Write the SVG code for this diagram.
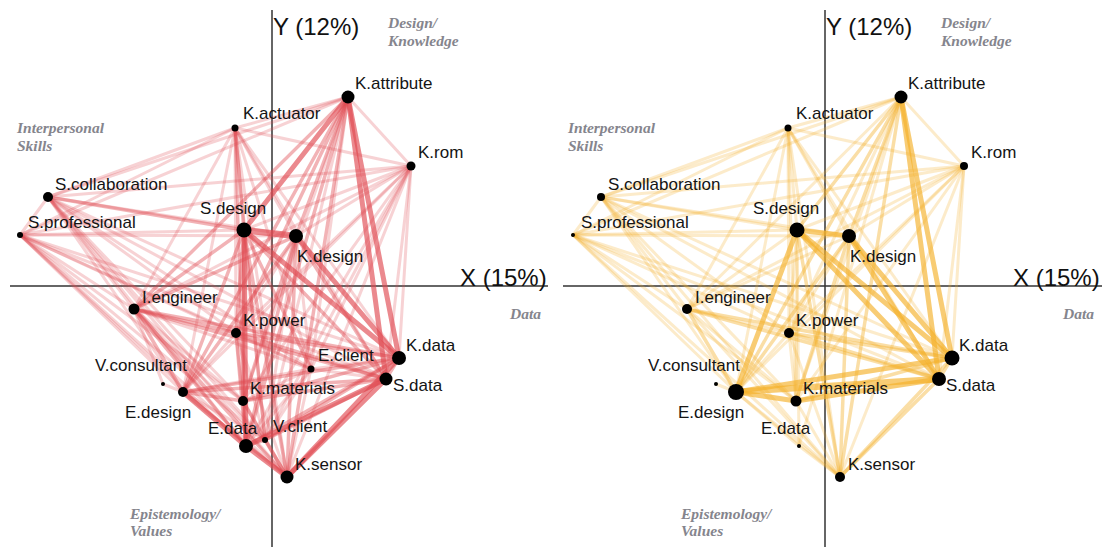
<svg xmlns="http://www.w3.org/2000/svg" width="1102" height="547" viewBox="0 0 1102 547">
<style>
  .links line { fill: none; stroke-linecap: round; }
  #links-left { stroke: #e04a52; }
  #links-right { stroke: #f4b02a; }
  .a { stroke-width: 3; stroke-opacity: .25; }
  .b { stroke-width: 3.5; stroke-opacity: .42; }
  .c { stroke-width: 5; stroke-opacity: .65; }
  .node circle { fill: #000; }
  .node text { font-family: "Liberation Sans", Arial, sans-serif; font-size: 17px; fill: #141414; }
  .axis { stroke: #333; stroke-width: 1.5; }
  .axis-title { font-family: "Liberation Sans", Arial, sans-serif; font-size: 24px; fill: #111; }
  .cat { font-family: "Liberation Serif", "Times New Roman", serif; font-style: italic; font-weight: bold; font-size: 15.5px; fill: #85858d; }
</style>

<!-- ===== Left panel (red network) ===== -->
<g id="panel-left">
  <g class="axes">
    <line class="axis" x1="272" y1="10" x2="272" y2="547"/>
    <line class="axis" x1="10" y1="286" x2="548" y2="286"/>
    <text class="axis-title" x="273" y="35">Y (12%)</text>
    <text class="axis-title" x="460" y="286">X (15%)</text>
    <text class="cat" x="388" y="28">Design/</text>
    <text class="cat" x="388" y="46">Knowledge</text>
    <text class="cat" x="17" y="133">Interpersonal</text>
    <text class="cat" x="17" y="151">Skills</text>
    <text class="cat" x="510" y="319">Data</text>
    <text class="cat" x="130" y="519">Epistemology/</text>
    <text class="cat" x="130" y="536">Values</text>
  </g>

  <g id="links-left" class="links">
    <!-- K.attribute -->
    <line class="a" x1="348" y1="97" x2="235" y2="128"/>
    <line class="a" x1="348" y1="97" x2="411" y2="166"/>
    <line class="a" x1="348" y1="97" x2="48" y2="197"/>
    <line class="a" x1="348" y1="97" x2="20" y2="235"/>
    <line class="a" x1="348" y1="97" x2="243" y2="401"/>
    <line class="a" x1="348" y1="97" x2="311" y2="369"/>
    <line class="a" x1="348" y1="97" x2="265" y2="440"/>
    <line class="b" x1="348" y1="97" x2="296" y2="236"/>
    <line class="b" x1="348" y1="97" x2="134" y2="309"/>
    <line class="b" x1="348" y1="97" x2="236" y2="333"/>
    <line class="b" x1="348" y1="97" x2="183" y2="392"/>
    <line class="b" x1="348" y1="97" x2="246" y2="446"/>
    <line class="b" x1="348" y1="97" x2="287" y2="477"/>
    <line class="c" x1="348" y1="97" x2="244" y2="230"/>
    <line class="c" x1="348" y1="97" x2="399" y2="358"/>
    <line class="c" x1="348" y1="97" x2="386" y2="379"/>
    <!-- K.actuator -->
    <line class="a" x1="235" y1="128" x2="411" y2="166"/>
    <line class="a" x1="235" y1="128" x2="48" y2="197"/>
    <line class="a" x1="235" y1="128" x2="20" y2="235"/>
    <line class="a" x1="235" y1="128" x2="296" y2="236"/>
    <line class="a" x1="235" y1="128" x2="134" y2="309"/>
    <line class="a" x1="235" y1="128" x2="236" y2="333"/>
    <line class="a" x1="235" y1="128" x2="183" y2="392"/>
    <line class="a" x1="235" y1="128" x2="243" y2="401"/>
    <line class="a" x1="235" y1="128" x2="311" y2="369"/>
    <line class="a" x1="235" y1="128" x2="399" y2="358"/>
    <line class="a" x1="235" y1="128" x2="386" y2="379"/>
    <line class="a" x1="235" y1="128" x2="246" y2="446"/>
    <line class="a" x1="235" y1="128" x2="265" y2="440"/>
    <line class="a" x1="235" y1="128" x2="287" y2="477"/>
    <line class="b" x1="235" y1="128" x2="244" y2="230"/>
    <!-- K.rom -->
    <line class="a" x1="411" y1="166" x2="48" y2="197"/>
    <line class="a" x1="411" y1="166" x2="20" y2="235"/>
    <line class="a" x1="411" y1="166" x2="244" y2="230"/>
    <line class="a" x1="411" y1="166" x2="296" y2="236"/>
    <line class="a" x1="411" y1="166" x2="134" y2="309"/>
    <line class="a" x1="411" y1="166" x2="236" y2="333"/>
    <line class="a" x1="411" y1="166" x2="183" y2="392"/>
    <line class="a" x1="411" y1="166" x2="243" y2="401"/>
    <line class="a" x1="411" y1="166" x2="311" y2="369"/>
    <line class="a" x1="411" y1="166" x2="399" y2="358"/>
    <line class="a" x1="411" y1="166" x2="386" y2="379"/>
    <line class="a" x1="411" y1="166" x2="246" y2="446"/>
    <line class="a" x1="411" y1="166" x2="265" y2="440"/>
    <line class="a" x1="411" y1="166" x2="287" y2="477"/>
    <!-- S.collaboration -->
    <line class="b" x1="48" y1="197" x2="244" y2="230"/>
    <line class="a" x1="48" y1="197" x2="20" y2="235"/>
    <line class="a" x1="48" y1="197" x2="296" y2="236"/>
    <line class="a" x1="48" y1="197" x2="134" y2="309"/>
    <line class="a" x1="48" y1="197" x2="236" y2="333"/>
    <line class="a" x1="48" y1="197" x2="183" y2="392"/>
    <line class="a" x1="48" y1="197" x2="243" y2="401"/>
    <line class="a" x1="48" y1="197" x2="311" y2="369"/>
    <line class="a" x1="48" y1="197" x2="399" y2="358"/>
    <line class="a" x1="48" y1="197" x2="386" y2="379"/>
    <line class="a" x1="48" y1="197" x2="246" y2="446"/>
    <line class="a" x1="48" y1="197" x2="265" y2="440"/>
    <line class="a" x1="48" y1="197" x2="287" y2="477"/>
    <!-- S.professional -->
    <line class="a" x1="20" y1="235" x2="244" y2="230"/>
    <line class="a" x1="20" y1="235" x2="296" y2="236"/>
    <line class="a" x1="20" y1="235" x2="134" y2="309"/>
    <line class="a" x1="20" y1="235" x2="236" y2="333"/>
    <line class="a" x1="20" y1="235" x2="183" y2="392"/>
    <line class="a" x1="20" y1="235" x2="243" y2="401"/>
    <line class="a" x1="20" y1="235" x2="311" y2="369"/>
    <line class="a" x1="20" y1="235" x2="399" y2="358"/>
    <line class="a" x1="20" y1="235" x2="386" y2="379"/>
    <line class="a" x1="20" y1="235" x2="246" y2="446"/>
    <line class="a" x1="20" y1="235" x2="265" y2="440"/>
    <line class="a" x1="20" y1="235" x2="287" y2="477"/>
    <!-- S.design -->
    <line class="c" x1="244" y1="230" x2="296" y2="236" style="stroke-width:6.5"/>
    <line class="c" x1="244" y1="230" x2="399" y2="358"/>
    <line class="c" x1="244" y1="230" x2="246" y2="446"/>
    <line class="b" x1="244" y1="230" x2="134" y2="309"/>
    <line class="b" x1="244" y1="230" x2="236" y2="333"/>
    <line class="b" x1="244" y1="230" x2="183" y2="392"/>
    <line class="b" x1="244" y1="230" x2="243" y2="401"/>
    <line class="b" x1="244" y1="230" x2="311" y2="369"/>
    <line class="b" x1="244" y1="230" x2="386" y2="379"/>
    <line class="b" x1="244" y1="230" x2="265" y2="440"/>
    <line class="b" x1="244" y1="230" x2="287" y2="477"/>
    <!-- K.design -->
    <line class="c" x1="296" y1="236" x2="399" y2="358"/>
    <line class="b" x1="296" y1="236" x2="134" y2="309"/>
    <line class="b" x1="296" y1="236" x2="183" y2="392"/>
    <line class="b" x1="296" y1="236" x2="243" y2="401"/>
    <line class="b" x1="296" y1="236" x2="386" y2="379"/>
    <line class="b" x1="296" y1="236" x2="246" y2="446"/>
    <line class="b" x1="296" y1="236" x2="287" y2="477"/>
    <line class="a" x1="296" y1="236" x2="236" y2="333"/>
    <line class="a" x1="296" y1="236" x2="311" y2="369"/>
    <line class="a" x1="296" y1="236" x2="265" y2="440"/>
    <!-- I.engineer -->
    <line class="b" x1="134" y1="309" x2="236" y2="333"/>
    <line class="b" x1="134" y1="309" x2="183" y2="392"/>
    <line class="b" x1="134" y1="309" x2="399" y2="358"/>
    <line class="b" x1="134" y1="309" x2="386" y2="379"/>
    <line class="b" x1="134" y1="309" x2="246" y2="446"/>
    <line class="b" x1="134" y1="309" x2="287" y2="477"/>
    <line class="a" x1="134" y1="309" x2="243" y2="401"/>
    <line class="a" x1="134" y1="309" x2="311" y2="369"/>
    <line class="a" x1="134" y1="309" x2="265" y2="440"/>
    <!-- K.power -->
    <line class="b" x1="236" y1="333" x2="399" y2="358"/>
    <line class="b" x1="236" y1="333" x2="386" y2="379"/>
    <line class="b" x1="236" y1="333" x2="246" y2="446"/>
    <line class="a" x1="236" y1="333" x2="183" y2="392"/>
    <line class="a" x1="236" y1="333" x2="243" y2="401"/>
    <line class="a" x1="236" y1="333" x2="311" y2="369"/>
    <line class="a" x1="236" y1="333" x2="265" y2="440"/>
    <line class="a" x1="236" y1="333" x2="287" y2="477"/>
    <!-- E.design -->
    <line class="c" x1="183" y1="392" x2="246" y2="446"/>
    <line class="b" x1="183" y1="392" x2="243" y2="401"/>
    <line class="b" x1="183" y1="392" x2="399" y2="358"/>
    <line class="b" x1="183" y1="392" x2="386" y2="379"/>
    <line class="b" x1="183" y1="392" x2="287" y2="477"/>
    <line class="a" x1="183" y1="392" x2="311" y2="369"/>
    <line class="a" x1="183" y1="392" x2="265" y2="440"/>
    <!-- K.materials -->
    <line class="b" x1="243" y1="401" x2="399" y2="358"/>
    <line class="b" x1="243" y1="401" x2="386" y2="379"/>
    <line class="b" x1="243" y1="401" x2="246" y2="446"/>
    <line class="b" x1="243" y1="401" x2="287" y2="477"/>
    <line class="a" x1="243" y1="401" x2="311" y2="369"/>
    <line class="a" x1="243" y1="401" x2="265" y2="440"/>
    <!-- E.client -->
    <line class="a" x1="311" y1="369" x2="399" y2="358"/>
    <line class="a" x1="311" y1="369" x2="386" y2="379"/>
    <line class="a" x1="311" y1="369" x2="246" y2="446"/>
    <line class="a" x1="311" y1="369" x2="265" y2="440"/>
    <line class="a" x1="311" y1="369" x2="287" y2="477"/>
    <!-- K.data / S.data / E.data / V.client -->
    <line class="c" x1="399" y1="358" x2="287" y2="477"/>
    <line class="b" x1="399" y1="358" x2="386" y2="379"/>
    <line class="b" x1="399" y1="358" x2="246" y2="446"/>
    <line class="b" x1="399" y1="358" x2="265" y2="440"/>
    <line class="c" x1="386" y1="379" x2="246" y2="446"/>
    <line class="c" x1="386" y1="379" x2="287" y2="477"/>
    <line class="b" x1="386" y1="379" x2="265" y2="440"/>
    <line class="c" x1="246" y1="446" x2="287" y2="477"/>
    <line class="b" x1="246" y1="446" x2="265" y2="440"/>
    <line class="b" x1="265" y1="440" x2="287" y2="477"/>
    <!-- V.consultant -->
    <line class="a" x1="163" y1="384" x2="183" y2="392"/>
    <line class="a" x1="163" y1="384" x2="134" y2="309"/>
  </g>

  <g id="l-k-attribute" class="node"><circle cx="348" cy="97" r="6.5"/><text x="355" y="89">K.attribute</text></g>
  <g id="l-k-actuator" class="node"><circle cx="235" cy="128" r="3.5"/><text x="243" y="119">K.actuator</text></g>
  <g id="l-k-rom" class="node"><circle cx="411" cy="166" r="4.5"/><text x="418" y="158">K.rom</text></g>
  <g id="l-s-collaboration" class="node"><circle cx="48" cy="197" r="5"/><text x="55" y="190">S.collaboration</text></g>
  <g id="l-s-professional" class="node"><circle cx="20" cy="235" r="3"/><text x="28" y="228">S.professional</text></g>
  <g id="l-s-design" class="node"><circle cx="244" cy="230" r="7.5"/><text x="200" y="214">S.design</text></g>
  <g id="l-k-design" class="node"><circle cx="296" cy="236" r="7"/><text x="297" y="262">K.design</text></g>
  <g id="l-i-engineer" class="node"><circle cx="134" cy="309" r="5.5"/><text x="142" y="303">I.engineer</text></g>
  <g id="l-k-power" class="node"><circle cx="236" cy="333" r="5"/><text x="243" y="326">K.power</text></g>
  <g id="l-v-consultant" class="node"><circle cx="163" cy="384" r="2"/><text x="95" y="371">V.consultant</text></g>
  <g id="l-e-design" class="node"><circle cx="183" cy="392" r="5"/><text x="125" y="418">E.design</text></g>
  <g id="l-k-materials" class="node"><circle cx="243" cy="401" r="5"/><text x="250" y="394">K.materials</text></g>
  <g id="l-e-client" class="node"><circle cx="311" cy="369" r="3.5"/><text x="318" y="361">E.client</text></g>
  <g id="l-k-data" class="node"><circle cx="399" cy="358" r="7"/><text x="406" y="351">K.data</text></g>
  <g id="l-s-data" class="node"><circle cx="386" cy="379" r="6.5"/><text x="393" y="391">S.data</text></g>
  <g id="l-e-data" class="node"><circle cx="246" cy="446" r="7"/><text x="208" y="434">E.data</text></g>
  <g id="l-v-client" class="node"><circle cx="265" cy="440" r="3"/><text x="273" y="432">V.client</text></g>
  <g id="l-k-sensor" class="node"><circle cx="287" cy="477" r="6.5"/><text x="295" y="470">K.sensor</text></g>
</g>

<!-- ===== Right panel (gold network) ===== -->
<g id="panel-right" transform="translate(553,0)">
  <g class="axes">
    <line class="axis" x1="272" y1="10" x2="272" y2="547"/>
    <line class="axis" x1="10" y1="286" x2="549" y2="286"/>
    <text class="axis-title" x="273" y="35">Y (12%)</text>
    <text class="axis-title" x="460" y="286">X (15%)</text>
    <text class="cat" x="388" y="28">Design/</text>
    <text class="cat" x="388" y="46">Knowledge</text>
    <text class="cat" x="15" y="133">Interpersonal</text>
    <text class="cat" x="15" y="151">Skills</text>
    <text class="cat" x="510" y="319">Data</text>
    <text class="cat" x="128" y="519">Epistemology/</text>
    <text class="cat" x="128" y="536">Values</text>
  </g>

  <g id="links-right" class="links">
    <!-- K.attribute -->
    <line class="c" x1="348" y1="97" x2="399" y2="358"/>
    <line class="c" x1="348" y1="97" x2="386" y2="379"/>
    <line class="b" x1="348" y1="97" x2="244" y2="230"/>
    <line class="b" x1="348" y1="97" x2="296" y2="236"/>
    <line class="b" x1="348" y1="97" x2="183" y2="392"/>
    <line class="b" x1="348" y1="97" x2="287" y2="477"/>
    <line class="a" x1="348" y1="97" x2="235" y2="128"/>
    <line class="a" x1="348" y1="97" x2="411" y2="166"/>
    <line class="a" x1="348" y1="97" x2="48" y2="197"/>
    <line class="a" x1="348" y1="97" x2="20" y2="235"/>
    <line class="a" x1="348" y1="97" x2="134" y2="309"/>
    <line class="a" x1="348" y1="97" x2="236" y2="333"/>
    <line class="a" x1="348" y1="97" x2="243" y2="401"/>
    <line class="a" x1="348" y1="97" x2="246" y2="446"/>
    <!-- K.actuator -->
    <line class="a" x1="235" y1="128" x2="411" y2="166"/>
    <line class="a" x1="235" y1="128" x2="48" y2="197"/>
    <line class="a" x1="235" y1="128" x2="20" y2="235"/>
    <line class="a" x1="235" y1="128" x2="244" y2="230"/>
    <line class="a" x1="235" y1="128" x2="296" y2="236"/>
    <line class="a" x1="235" y1="128" x2="134" y2="309"/>
    <line class="a" x1="235" y1="128" x2="236" y2="333"/>
    <line class="a" x1="235" y1="128" x2="183" y2="392"/>
    <line class="a" x1="235" y1="128" x2="243" y2="401"/>
    <line class="a" x1="235" y1="128" x2="399" y2="358"/>
    <line class="a" x1="235" y1="128" x2="386" y2="379"/>
    <line class="a" x1="235" y1="128" x2="287" y2="477"/>
    <!-- K.rom -->
    <line class="a" x1="411" y1="166" x2="48" y2="197"/>
    <line class="a" x1="411" y1="166" x2="20" y2="235"/>
    <line class="a" x1="411" y1="166" x2="244" y2="230"/>
    <line class="a" x1="411" y1="166" x2="296" y2="236"/>
    <line class="a" x1="411" y1="166" x2="134" y2="309"/>
    <line class="a" x1="411" y1="166" x2="236" y2="333"/>
    <line class="a" x1="411" y1="166" x2="183" y2="392"/>
    <line class="a" x1="411" y1="166" x2="243" y2="401"/>
    <line class="a" x1="411" y1="166" x2="399" y2="358"/>
    <line class="a" x1="411" y1="166" x2="386" y2="379"/>
    <line class="a" x1="411" y1="166" x2="287" y2="477"/>
    <!-- S.collaboration -->
    <line class="a" x1="48" y1="197" x2="20" y2="235"/>
    <line class="a" x1="48" y1="197" x2="244" y2="230"/>
    <line class="a" x1="48" y1="197" x2="296" y2="236"/>
    <line class="a" x1="48" y1="197" x2="134" y2="309"/>
    <line class="a" x1="48" y1="197" x2="236" y2="333"/>
    <line class="a" x1="48" y1="197" x2="183" y2="392"/>
    <line class="a" x1="48" y1="197" x2="243" y2="401"/>
    <line class="a" x1="48" y1="197" x2="399" y2="358"/>
    <line class="a" x1="48" y1="197" x2="386" y2="379"/>
    <line class="a" x1="48" y1="197" x2="287" y2="477"/>
    <!-- S.professional -->
    <line class="a" x1="20" y1="235" x2="244" y2="230"/>
    <line class="a" x1="20" y1="235" x2="296" y2="236"/>
    <line class="a" x1="20" y1="235" x2="134" y2="309"/>
    <line class="a" x1="20" y1="235" x2="236" y2="333"/>
    <line class="a" x1="20" y1="235" x2="183" y2="392"/>
    <line class="a" x1="20" y1="235" x2="243" y2="401"/>
    <line class="a" x1="20" y1="235" x2="399" y2="358"/>
    <line class="a" x1="20" y1="235" x2="386" y2="379"/>
    <line class="a" x1="20" y1="235" x2="287" y2="477"/>
    <!-- S.design -->
    <line class="c" x1="244" y1="230" x2="296" y2="236"/>
    <line class="c" x1="244" y1="230" x2="183" y2="392"/>
    <line class="c" x1="244" y1="230" x2="399" y2="358"/>
    <line class="c" x1="244" y1="230" x2="386" y2="379"/>
    <line class="b" x1="244" y1="230" x2="287" y2="477"/>
    <line class="a" x1="244" y1="230" x2="134" y2="309"/>
    <line class="a" x1="244" y1="230" x2="236" y2="333"/>
    <line class="a" x1="244" y1="230" x2="243" y2="401"/>
    <line class="a" x1="244" y1="230" x2="246" y2="446"/>
    <!-- K.design -->
    <line class="c" x1="296" y1="236" x2="399" y2="358"/>
    <line class="c" x1="296" y1="236" x2="386" y2="379"/>
    <line class="b" x1="296" y1="236" x2="183" y2="392"/>
    <line class="b" x1="296" y1="236" x2="243" y2="401"/>
    <line class="b" x1="296" y1="236" x2="287" y2="477"/>
    <line class="a" x1="296" y1="236" x2="134" y2="309"/>
    <line class="a" x1="296" y1="236" x2="236" y2="333"/>
    <!-- I.engineer -->
    <line class="b" x1="134" y1="309" x2="183" y2="392"/>
    <line class="b" x1="134" y1="309" x2="399" y2="358"/>
    <line class="b" x1="134" y1="309" x2="386" y2="379"/>
    <line class="a" x1="134" y1="309" x2="236" y2="333"/>
    <line class="a" x1="134" y1="309" x2="243" y2="401"/>
    <line class="a" x1="134" y1="309" x2="287" y2="477"/>
    <!-- K.power -->
    <line class="b" x1="236" y1="333" x2="399" y2="358"/>
    <line class="b" x1="236" y1="333" x2="386" y2="379"/>
    <line class="a" x1="236" y1="333" x2="183" y2="392"/>
    <line class="a" x1="236" y1="333" x2="243" y2="401"/>
    <line class="a" x1="236" y1="333" x2="287" y2="477"/>
    <!-- E.design -->
    <line class="c" x1="183" y1="392" x2="243" y2="401"/>
    <line class="c" x1="183" y1="392" x2="399" y2="358"/>
    <line class="c" x1="183" y1="392" x2="386" y2="379" style="stroke-width:6.5"/>
    <line class="a" x1="183" y1="392" x2="246" y2="446"/>
    <line class="a" x1="183" y1="392" x2="287" y2="477"/>
    <!-- K.materials -->
    <line class="c" x1="243" y1="401" x2="386" y2="379"/>
    <line class="b" x1="243" y1="401" x2="399" y2="358"/>
    <line class="a" x1="243" y1="401" x2="287" y2="477"/>
    <!-- K.data / S.data / E.data -->
    <line class="b" x1="399" y1="358" x2="386" y2="379"/>
    <line class="b" x1="399" y1="358" x2="287" y2="477"/>
    <line class="b" x1="386" y1="379" x2="287" y2="477"/>
    <line class="a" x1="246" y1="446" x2="287" y2="477"/>
    <!-- V.consultant -->
    <line class="a" x1="163" y1="384" x2="183" y2="392"/>
  </g>

  <g id="r-k-attribute" class="node"><circle cx="348" cy="97" r="6.5"/><text x="355" y="89">K.attribute</text></g>
  <g id="r-k-actuator" class="node"><circle cx="235" cy="128" r="3.5"/><text x="243" y="119">K.actuator</text></g>
  <g id="r-k-rom" class="node"><circle cx="411" cy="166" r="4"/><text x="418" y="158">K.rom</text></g>
  <g id="r-s-collaboration" class="node"><circle cx="48" cy="197" r="4"/><text x="55" y="190">S.collaboration</text></g>
  <g id="r-s-professional" class="node"><circle cx="20" cy="235" r="2"/><text x="28" y="228">S.professional</text></g>
  <g id="r-s-design" class="node"><circle cx="244" cy="230" r="7.5"/><text x="200" y="214">S.design</text></g>
  <g id="r-k-design" class="node"><circle cx="296" cy="236" r="7"/><text x="297" y="262">K.design</text></g>
  <g id="r-i-engineer" class="node"><circle cx="134" cy="309" r="5"/><text x="142" y="303">I.engineer</text></g>
  <g id="r-k-power" class="node"><circle cx="236" cy="333" r="5"/><text x="243" y="326">K.power</text></g>
  <g id="r-v-consultant" class="node"><circle cx="163" cy="384" r="2"/><text x="95" y="371">V.consultant</text></g>
  <g id="r-e-design" class="node"><circle cx="183" cy="392" r="8"/><text x="125" y="418">E.design</text></g>
  <g id="r-k-materials" class="node"><circle cx="243" cy="401" r="5.5"/><text x="250" y="394">K.materials</text></g>
  <g id="r-k-data" class="node"><circle cx="399" cy="358" r="7.5"/><text x="406" y="351">K.data</text></g>
  <g id="r-s-data" class="node"><circle cx="386" cy="379" r="7"/><text x="393" y="391">S.data</text></g>
  <g id="r-e-data" class="node"><circle cx="246" cy="446" r="2"/><text x="208" y="434">E.data</text></g>
  <g id="r-k-sensor" class="node"><circle cx="287" cy="477" r="5"/><text x="295" y="470">K.sensor</text></g>
</g>
</svg>
